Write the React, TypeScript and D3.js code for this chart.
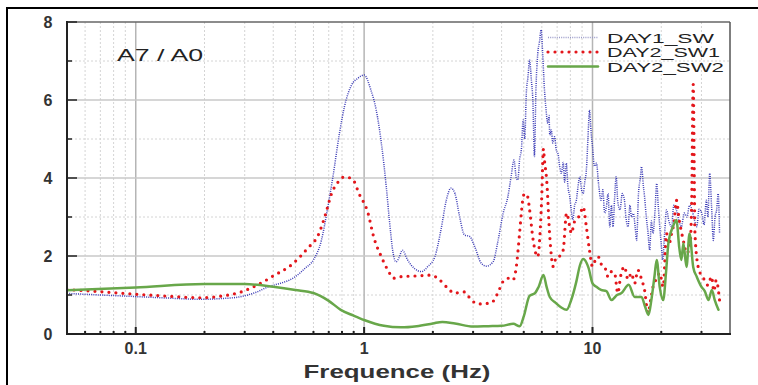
import React from "react";
import * as d3 from "d3";

// values: [frequency (Hz), ratio]
const day1Sw: [number, number][] = [
  [0.05, 1.04], [0.07, 1.0], [0.1, 0.96], [0.14, 0.92], [0.19, 0.89], [0.24, 0.91], [0.29, 0.96],
  [0.34, 1.08], [0.38, 1.21], [0.43, 1.3], [0.47, 1.38], [0.5, 1.47], [0.55, 1.68], [0.6, 1.9],
  [0.65, 2.4], [0.69, 3.18], [0.73, 4.03], [0.78, 5.15], [0.82, 5.83], [0.88, 6.38], [0.94, 6.56],
  [1.0, 6.64], [1.07, 6.26], [1.13, 5.74], [1.19, 4.89], [1.25, 3.78], [1.29, 2.92], [1.34, 2.07],
  [1.38, 1.85], [1.42, 1.95], [1.47, 2.15], [1.55, 1.9], [1.66, 1.68], [1.78, 1.6], [1.9, 1.73],
  [2.04, 1.98], [2.17, 2.67], [2.29, 3.43], [2.4, 3.74], [2.5, 3.6], [2.62, 3.0], [2.75, 2.54],
  [2.9, 2.5], [3.05, 2.24], [3.26, 1.81], [3.43, 1.74], [3.67, 1.85], [3.86, 2.4], [4.06, 3.09],
  [4.26, 3.52], [4.4, 4.03], [4.53, 4.46], [4.64, 4.0], [4.71, 3.95], [4.8, 4.5], [4.88, 4.72],
  [4.97, 5.49], [5.05, 5.0], [5.13, 6.17], [5.22, 6.6], [5.3, 7.03], [5.4, 6.5], [5.48, 6.0],
  [5.57, 4.55], [5.65, 6.2], [5.76, 7.2], [5.86, 7.5], [5.96, 7.8], [6.05, 7.2], [6.15, 6.34],
  [6.25, 5.8], [6.37, 5.4], [6.45, 5.6], [6.5, 5.1], [6.6, 5.23], [6.7, 4.9], [6.82, 5.06],
  [6.95, 4.7], [7.06, 4.63], [7.18, 4.3], [7.3, 4.12], [7.45, 4.4], [7.55, 3.9], [7.68, 4.38],
  [7.8, 3.8], [7.95, 3.52], [8.1, 3.1], [8.2, 2.92], [8.35, 3.3], [8.5, 3.43], [8.65, 3.8],
  [8.8, 4.03], [8.95, 3.7], [9.1, 3.6], [9.25, 3.9], [9.4, 4.2], [9.55, 5.0], [9.7, 5.74],
  [9.85, 5.2], [10.0, 4.8], [10.2, 4.3], [10.4, 4.38], [10.65, 3.8], [10.9, 3.43], [11.1, 3.7],
  [11.3, 3.1], [11.5, 3.26], [11.7, 3.6], [11.9, 2.75], [12.1, 3.3], [12.3, 2.75], [12.5, 3.5],
  [12.7, 4.03], [12.9, 3.4], [13.2, 3.18], [13.5, 3.6], [13.8, 3.43], [14.0, 3.0], [14.3, 2.75],
  [14.6, 3.3], [14.8, 3.0], [15.1, 3.09], [15.4, 2.7], [15.6, 2.4], [15.9, 3.6], [16.2, 4.0],
  [16.4, 4.29], [16.7, 3.8], [16.9, 3.52], [17.2, 3.0], [17.5, 2.6], [17.8, 2.15], [18.1, 2.9],
  [18.4, 2.58], [18.8, 3.2], [19.1, 3.86], [19.4, 3.3], [19.7, 2.75], [20.0, 2.3], [20.3, 1.9],
  [20.7, 2.6], [21.1, 3.18], [21.6, 2.9], [22.2, 2.75], [22.7, 3.3], [23.3, 3.18], [23.9, 2.9],
  [24.5, 2.75], [25.2, 3.1], [25.9, 3.0], [26.6, 3.3], [27.3, 3.18], [28.0, 2.9], [28.6, 2.75],
  [29.3, 3.2], [30.1, 3.09], [30.8, 2.8], [31.5, 3.43], [32.0, 3.0], [32.6, 4.12], [33.2, 3.3],
  [33.8, 2.4], [34.4, 3.0], [35.0, 3.2], [35.5, 3.6], [36.0, 2.58],
];

const day2Sw1: [number, number][] = [
  [0.05, 1.14], [0.072, 1.08], [0.1, 1.02], [0.138, 0.97], [0.19, 0.93], [0.236, 0.97],
  [0.29, 1.08], [0.32, 1.18], [0.36, 1.33], [0.4, 1.49], [0.48, 1.77], [0.566, 2.2], [0.63, 2.54],
  [0.68, 3.1], [0.72, 3.6], [0.77, 3.9], [0.82, 4.03], [0.89, 3.97], [0.95, 3.6], [1.04, 3.1],
  [1.1, 2.5], [1.19, 1.98], [1.27, 1.64], [1.35, 1.43], [1.45, 1.47], [1.72, 1.49], [1.97, 1.51],
  [2.1, 1.43], [2.33, 1.17], [2.48, 1.05], [2.74, 1.08], [2.95, 0.87], [3.15, 0.77], [3.6, 0.8],
  [3.85, 1.05], [4.05, 1.34], [4.26, 1.43], [4.48, 1.38], [4.64, 1.73], [4.78, 2.5], [4.88, 3.1],
  [4.96, 3.48], [5.04, 3.6], [5.2, 3.52], [5.3, 3.2], [5.5, 2.4], [5.75, 1.98], [5.98, 3.35],
  [6.1, 4.75], [6.15, 4.5], [6.3, 3.95], [6.5, 2.5], [6.73, 1.73], [6.95, 1.98], [7.2, 2.0],
  [7.44, 2.15], [7.7, 3.1], [8.1, 2.58], [8.3, 2.85], [8.8, 3.05], [9.1, 3.26], [9.4, 2.75],
  [9.7, 2.15], [10.0, 1.73], [10.3, 1.9], [10.6, 1.98], [10.9, 1.8], [11.3, 1.73], [11.7, 1.47],
  [12.1, 1.6], [12.5, 1.56], [12.9, 1.05], [13.3, 1.5], [13.8, 1.73], [14.3, 1.4], [14.8, 1.56],
  [15.3, 1.3], [15.8, 1.64], [16.4, 1.4], [16.9, 1.13], [17.5, 0.54], [18.0, 0.9], [18.4, 1.21],
  [19.0, 1.4], [19.7, 1.56], [20.4, 1.21], [21.1, 2.58], [21.6, 2.3], [22.2, 2.58], [22.8, 2.9],
  [23.3, 3.43], [24.0, 2.9], [24.6, 2.58], [25.2, 2.3], [25.8, 2.07], [26.7, 2.24], [27.2, 3.5],
  [27.6, 6.4], [28.1, 2.58], [29.0, 1.73], [30.0, 1.5], [31.0, 1.38], [32.0, 1.25], [33.2, 1.47],
  [34.0, 1.1], [34.8, 1.38], [36.0, 0.87],
];

const day2Sw2: [number, number][] = [
  [0.05, 1.12], [0.1, 1.19], [0.2, 1.28], [0.3, 1.28], [0.4, 1.21], [0.5, 1.13], [0.6, 1.05],
  [0.7, 0.85], [0.79, 0.62], [0.9, 0.47], [1.0, 0.36], [1.22, 0.21], [1.45, 0.17], [1.7, 0.2],
  [2.0, 0.27], [2.2, 0.31], [2.5, 0.27], [3.0, 0.19], [3.5, 0.2], [4.0, 0.21], [4.5, 0.26],
  [4.8, 0.2], [5.0, 0.45], [5.3, 0.98], [5.6, 1.05], [5.8, 1.2], [6.1, 1.51], [6.3, 1.2],
  [6.5, 0.95], [6.9, 0.8], [7.3, 0.68], [7.7, 0.62], [8.1, 0.9], [8.5, 1.35], [8.8, 1.75],
  [9.1, 1.92], [9.6, 1.7], [10.0, 1.3], [10.4, 1.21], [10.9, 1.13], [11.5, 1.1], [12.1, 0.87],
  [12.8, 1.0], [13.4, 1.05], [14.4, 1.26], [15.3, 0.95], [16.4, 0.95], [17.0, 0.7], [17.6, 0.49],
  [18.1, 0.87], [18.7, 1.5], [19.1, 1.9], [19.7, 1.2], [20.4, 0.87], [21.0, 1.6], [21.5, 2.33],
  [22.5, 2.75], [23.3, 2.92], [24.0, 2.2], [24.5, 1.9], [25.0, 2.33], [25.8, 1.72], [26.6, 2.58],
  [27.6, 1.72], [28.6, 1.47], [30.0, 1.21], [31.0, 1.1], [32.2, 0.87], [33.3, 1.13], [34.3, 0.87],
  [35.6, 0.62],
];

const seriesNames = ["DAY1_SW", "DAY2_SW1", "DAY2_SW2"];
const xMajor = [0.1, 1, 10];
const xMajorLabels = ["0.1", "1", "10"];
const xMinor = [0.06, 0.07, 0.08, 0.09, 0.2, 0.3, 0.4, 0.5, 0.6, 0.7, 0.8, 0.9,
  2, 3, 4, 5, 6, 7, 8, 9, 20, 30];
const yMajor = [0, 2, 4, 6, 8];
const yMinor = [1, 3, 5, 7];

const W = 758;
const H = 385;
const L = 67, R = 730, T = 22, B = 334;
const FONT = "'Liberation Sans', Arial, sans-serif";

export default function App() {
  const x = d3.scaleLog().domain([0.05, 40]).range([L, R]);
  const y = d3.scaleLinear().domain([0, 8]).range([B, T]);
  const line = d3
    .line<[number, number]>()
    .x((d) => x(d[0]))
    .y((d) => y(d[1]))
    .curve(d3.curveMonotoneX);

  const styles = [
    { stroke: "#3b3bb6", width: 1.5, dash: "1 1.2", cap: "butt" },
    { stroke: "#e3161b", width: 3.2, dash: "0 7", cap: "round" },
    { stroke: "#68a74a", width: 2.5, dash: undefined, cap: "round" },
  ];
  const data = [day1Sw, day2Sw1, day2Sw2];

  return (
    <svg width={W} height={H} style={{ position: "absolute", left: 0, top: 0, background: "#fff" }}>
      <defs>
        <clipPath id="plot">
          <rect x={L} y={T} width={R - L} height={B - T} />
        </clipPath>
      </defs>
      {/* page frame */}
      <line x1={7} x2={7} y1={7} y2={H} stroke="#000" strokeWidth={2} />
      <line x1={6} x2={W} y1={8} y2={8} stroke="#000" strokeWidth={2} />

      {/* grid */}
      {xMinor.map((v) => (
        <line key={"gx" + v} x1={x(v)} x2={x(v)} y1={T} y2={B} stroke="#d4d4d4" strokeDasharray="2 2" />
      ))}
      {yMinor.map((v) => (
        <line key={"gy" + v} x1={L} x2={R} y1={y(v)} y2={y(v)} stroke="#d4d4d4" strokeDasharray="2 2" />
      ))}
      {xMajor.map((v) => (
        <line key={"Gx" + v} x1={x(v)} x2={x(v)} y1={T} y2={B} stroke="#b5b5b5" strokeWidth={1.5} />
      ))}
      {yMajor.slice(1, -1).map((v) => (
        <line key={"Gy" + v} x1={L} x2={R} y1={y(v)} y2={y(v)} stroke="#c8c8c8" strokeWidth={1.5} />
      ))}

      {/* series */}
      <g clipPath="url(#plot)">
        {data.map((d, i) => (
          <path
            key={seriesNames[i]}
            d={line(d) || ""}
            fill="none"
            stroke={styles[i].stroke}
            strokeWidth={styles[i].width}
            strokeDasharray={styles[i].dash}
            strokeLinecap={styles[i].cap as any}
            strokeLinejoin="round"
          />
        ))}
      </g>

      {/* frame */}
      <line x1={L} x2={R} y1={T} y2={T} stroke="#666" strokeWidth={1.5} />
      <line x1={R} x2={R} y1={T} y2={B} stroke="#555" strokeWidth={1.5} />
      <line x1={L} x2={L} y1={T - 1} y2={B + 1} stroke="#222" strokeWidth={2} />
      <line x1={L - 1} x2={R + 1} y1={B} y2={B} stroke="#222" strokeWidth={2} />

      {/* ticks */}
      {xMinor.map((v) => (
        <line key={"tx" + v} x1={x(v)} x2={x(v)} y1={B} y2={B - 3} stroke="#222" strokeWidth={2} />
      ))}
      {xMajor.map((v) => (
        <line key={"Tx" + v} x1={x(v)} x2={x(v)} y1={B} y2={B - 7} stroke="#222" strokeWidth={2} />
      ))}
      {yMinor.map((v) => (
        <line key={"ty" + v} x1={L} x2={L + 5} y1={y(v)} y2={y(v)} stroke="#222" strokeWidth={1.5} />
      ))}
      {yMajor.map((v) => (
        <line key={"Ty" + v} x1={L} x2={L + 10} y1={y(v)} y2={y(v)} stroke="#222" strokeWidth={1.5} />
      ))}

      {/* tick labels */}
      {yMajor.map((v) => (
        <text key={"ly" + v} x={48} y={y(v)} dy="0.36em" textAnchor="middle" fontFamily={FONT}
          fontWeight="bold" fontSize={16} fill="#333">{v}</text>
      ))}
      {xMajor.map((v, i) => (
        <text key={"lx" + v} x={x(v)} y={354} textAnchor="middle" fontFamily={FONT}
          fontWeight="bold" fontSize={16} fill="#333">{xMajorLabels[i]}</text>
      ))}
      <text x={397} y={378} textAnchor="middle" fontFamily={FONT} fontWeight="bold" fontSize={19}
        fill="#333" textLength={187} lengthAdjust="spacingAndGlyphs">Frequence (Hz)</text>

      <text x={117} y={61} fontFamily={FONT} fontSize={16} fill="#222" textLength={86}
        lengthAdjust="spacingAndGlyphs">A7 / A0</text>

      {/* legend */}
      {seriesNames.map((n, i) => {
        const ly = [37.5, 52, 66.5][i];
        return (
          <g key={"lg" + n}>
            <line x1={548} x2={598} y1={ly} y2={ly} stroke={i === 0 ? "#9a9ac8" : styles[i].stroke}
              strokeWidth={styles[i].width} strokeDasharray={styles[i].dash}
              strokeLinecap={styles[i].cap as any} />
            <text x={607} y={ly + 5} fontFamily={FONT} fontSize={13} fill="#222"
              textLength={[107, 113, 117][i]} lengthAdjust="spacingAndGlyphs">{n}</text>
          </g>
        );
      })}
    </svg>
  );
}
